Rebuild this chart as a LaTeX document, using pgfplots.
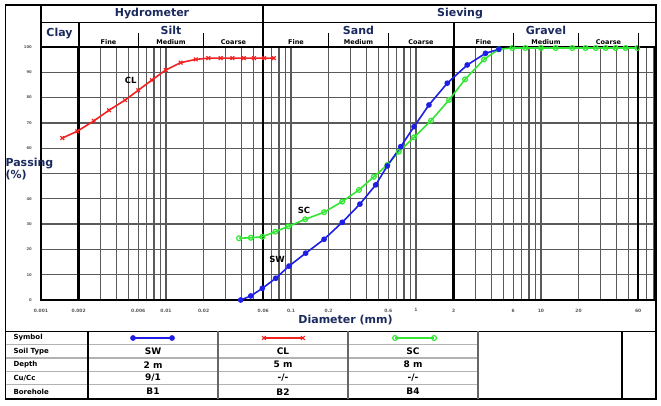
\documentclass[border=0pt]{standalone}
\usepackage{fontspec}
\setmainfont{DejaVu Sans}
\usepackage{pgfplots}
\pgfplotsset{compat=1.18}
\definecolor{swblue}{HTML}{1E1EE6}
\definecolor{clred}{HTML}{F22222}
\definecolor{scgreen}{HTML}{33E633}
\definecolor{hdr}{HTML}{1B2A5E}
\definecolor{gridc}{HTML}{5A5A5A}
\newcommand\hdrfont{\fontsize{11}{12}\selectfont\bfseries\color{hdr}}
\newcommand\subfont{\fontsize{6.5}{7}\selectfont\bfseries}
\newcommand\tabfont{\fontsize{7}{8}\selectfont\bfseries}
\newcommand\valfont{\fontsize{9}{10}\selectfont\bfseries}

\begin{document}
\begin{tikzpicture}[x=1pt,y=1pt]
\path[use as bounding box] (0,0) rectangle (661,406);
\begin{axis}[
  at={(41pt,106pt)}, anchor=south west,
  scale only axis, width=614pt, height=253pt,
  xmode=log, xmin=0.001, xmax=81.7, ymin=0, ymax=100,
  clip=false,
  xtick={0.001,0.002,0.006,0.01,0.02,0.06,0.1,0.2,0.6,1,2,6,10,20,60},
  xticklabels={0.001,0.002,0.006,0.01,0.02,0.06,0.1,0.2,0.6,1,2,6,10,20,60},
  minor xtick={0.003,0.004,0.005,0.007,0.008,0.009,0.03,0.04,0.05,0.07,0.08,0.09,
    0.3,0.4,0.5,0.7,0.8,0.9,3,4,5,7,8,9,30,40,50,70,80},
  extra x ticks={0.002,0.06,2,60},
  extra x tick labels={},
  extra x tick style={grid=major, major grid style={black, line width=2.3pt}},
  ytick={0,10,...,100},
  yticklabels={0,10,20,30,40,,60,70,80,90,100},
  xmajorgrids, xminorgrids, ymajorgrids,
  major grid style={gridc, line width=1.3pt},
  minor grid style={gridc, line width=1.3pt},
  major tick length=0pt, minor tick length=0pt,
  axis line style={black, line width=1.5pt},
  xticklabel style={font=\fontsize{4.5}{5}\selectfont\bfseries, text=black!65, inner sep=0pt, yshift=-8.5pt},
  yticklabel style={font=\fontsize{3.8}{4}\selectfont\bfseries, text=black!65, inner sep=0pt, xshift=-9pt},
  xlabel={Diameter (mm)},
  xlabel style={at={(axis description cs:0.496,-0.079)}, anchor=center, font=\hdrfont},
  ylabel={Passing\\(\%)},
  ylabel style={at={(axis description cs:-0.0635,0.518)}, anchor=west, rotate=-90, align=left, font=\hdrfont},
  legend image code/.code={\draw[mark repeat=1,#1] plot coordinates {(0pt,0pt) (39pt,0pt)};},
  legend style={draw=none, fill=none, inner sep=0pt, outer sep=0pt, legend columns=3,
    at={(axis description cs:0.1466,-0.1502)}, anchor=west, nodes={inner sep=0pt},
    /tikz/every even column/.append style={column sep=87pt}},
]
\addlegendimage{swblue, line width=1.6pt, mark=*, mark size=2pt}
\addlegendentry{\mbox{}}
\addlegendimage{clred, line width=1.6pt, mark=x, mark size=2.6pt, mark options={line width=1.2pt}}
\addlegendentry{\mbox{}}
\addlegendimage{scgreen, line width=1.6pt, mark=o, mark size=2.4pt, mark options={fill=white, line width=1.2pt}}
\addlegendentry{\mbox{}}

% CL
\addplot[forget plot, clred, line width=1.6pt, mark=x, mark size=2.6pt, mark options={line width=1.2pt}] coordinates {
  (0.00148,64.0) (0.00195,66.7) (0.00265,70.8) (0.0035,75.0) (0.0047,79.0)
  (0.006,82.9) (0.0077,86.9) (0.00995,90.9) (0.0131,93.8) (0.0173,95.1)
  (0.0218,95.6) (0.0274,95.6) (0.034,95.6) (0.042,95.6) (0.0506,95.6)
  (0.061,95.6) (0.073,95.6)};
% SC
\addplot[forget plot, scgreen, line width=1.6pt, mark=o, mark size=2.4pt, mark options={fill=white, line width=1.2pt}] coordinates {
  (0.0384,24.4) (0.0477,24.6) (0.059,25.0) (0.075,27.0) (0.0953,29.1)
  (0.130,31.9) (0.184,34.7) (0.257,38.9) (0.35,43.5) (0.46,48.7)
  (0.59,53.4) (0.73,58.6) (0.964,64.3) (1.32,70.9) (1.84,79.1)
  (2.47,87.2) (3.5,95.1) (4.6,99.1) (5.9,99.6) (7.5,99.6) (10,99.6)
  (13.1,99.6) (17.8,99.6) (22.7,99.6) (27.4,99.6) (32.9,99.6) (39.5,99.6)
  (47.5,99.6) (58.9,99.6)};
% SW
\addplot[forget plot, swblue, line width=1.6pt, mark=*, mark size=2pt] coordinates {
  (0.0396,0) (0.0477,1.6) (0.059,4.6) (0.0755,8.6) (0.0964,13.4)
  (0.131,18.5) (0.184,24.0) (0.257,30.7) (0.356,37.9) (0.476,45.5)
  (0.59,53.0) (0.755,60.6) (0.964,68.5) (1.27,77.1) (1.78,85.7)
  (2.57,92.9) (3.6,97.5) (4.6,99.1)};

\node[font=\fontsize{8.5}{9}\selectfont\bfseries] at (axis cs:0.00522,86.6) {CL};
\node[font=\fontsize{8.5}{9}\selectfont\bfseries] at (axis cs:0.127,35.3) {SC};
\node[font=\fontsize{8.5}{9}\selectfont\bfseries] at (axis cs:0.0773,16.2) {SW};
\end{axis}

% outer frame and header
\draw[line width=1.5pt] (5.5,7) rectangle (656,401);
\draw[line width=1pt] (41,383.5) -- (656,383.5);
\draw[line width=1.5pt] (41,401) -- (41,359);
\draw[line width=2.3pt] (263.3,401) -- (263.3,359);
\draw[line width=1.8pt] (78.6,383.5) -- (78.6,359) (453.6,383.5) -- (453.6,359);
\draw[line width=1.2pt] (138.3,373) -- (138.3,359) (203.6,373) -- (203.6,359)
  (328.6,373) -- (328.6,359) (388.3,373) -- (388.3,359)
  (513.3,373) -- (513.3,359) (578.6,373) -- (578.6,359) (638.3,373) -- (638.3,359);
\node[font=\hdrfont] at (152,392) {Hydrometer};
\node[font=\hdrfont] at (460,392.5) {Sieving};
\node[font=\hdrfont] at (59.5,372.5) {Clay};
\node[font=\hdrfont] at (171,376) {Silt};
\node[font=\hdrfont] at (358.5,376) {Sand};
\node[font=\hdrfont] at (546,376) {Gravel};
\foreach \x/\t in {108.5/Fine,171/Medium,233.5/Coarse,296/Fine,358.5/Medium,421/Coarse,483.5/Fine,546/Medium,608.5/Coarse}
  \node[font=\subfont] at (\x,364) {\t};

% table
\draw[line width=1.4pt] (5.5,74.7) -- (656,74.7);
\draw[gray!60, line width=1.3pt] (5.5,61.3) -- (478,61.3) (5.5,48) -- (478,48)
  (5.5,34.7) -- (478,34.7) (5.5,21.3) -- (478,21.3);
\draw[line width=1.5pt] (88,74.7) -- (88,7) (622,74.7) -- (622,7);
\draw[black!60, line width=1.2pt] (218,74.7) -- (218,7) (348,74.7) -- (348,7) (478,74.7) -- (478,7);
\foreach \y/\t in {68/Symbol,54.7/Soil Type,41.3/Depth,28/Cu\slash Cc,14.3/Borehole}
  \node[font=\tabfont, anchor=west] at (10,\y) {\t};
\foreach \x/\a/\b/\c/\d in {153/SW/2 m/9\slash 1/B1,283/CL/5 m/-\slash -/B2,413/SC/8 m/-\slash -/B4}{
  \node[font=\valfont] at (\x,54.7) {\a};
  \node[font=\valfont] at (\x,41.3) {\b};
  \node[font=\valfont] at (\x,28) {\c};
  \node[font=\valfont] at (\x,14.3) {\d};
}
\end{tikzpicture}
\end{document}
